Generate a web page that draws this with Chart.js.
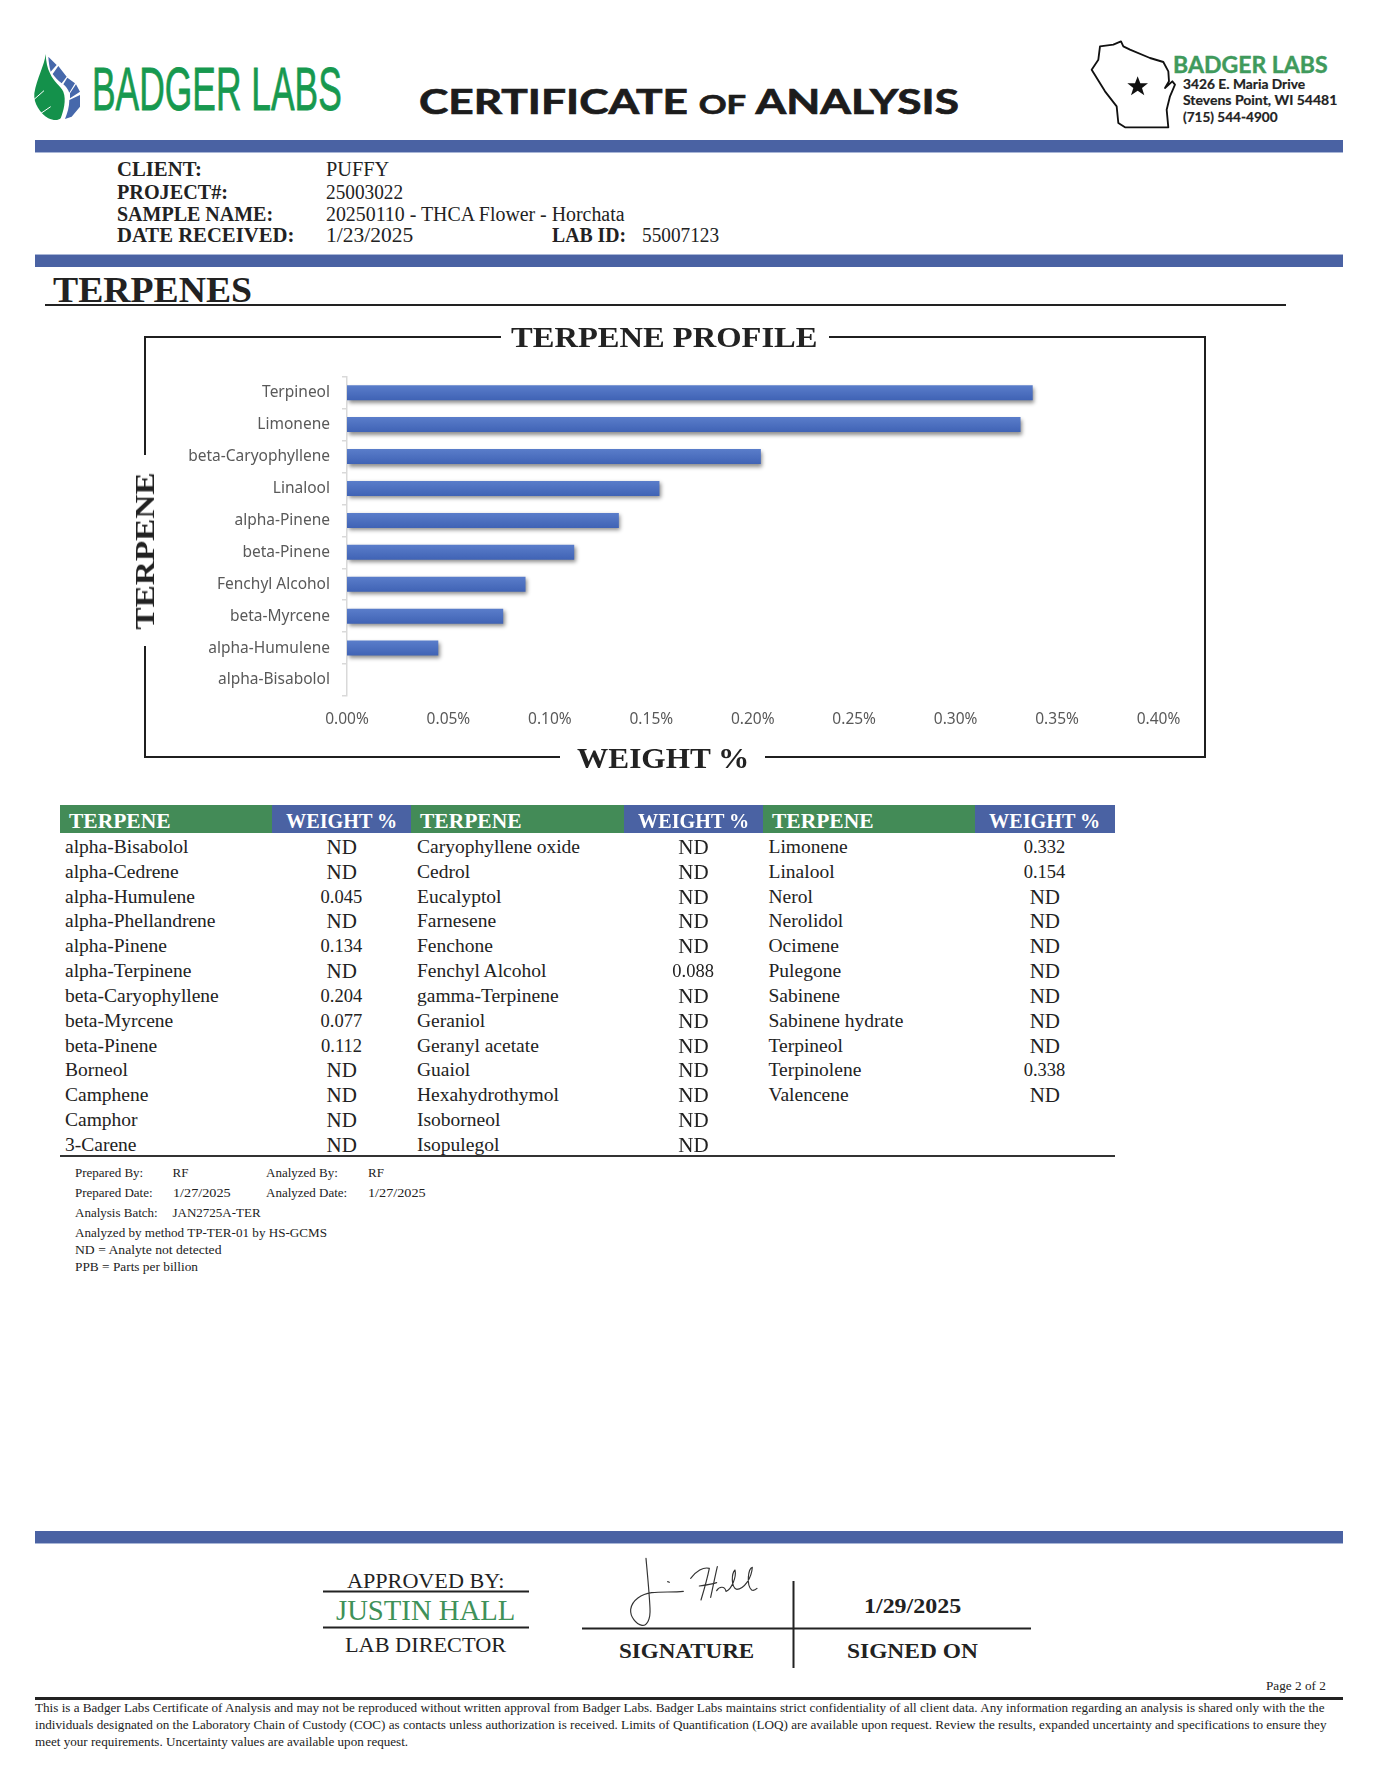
<!DOCTYPE html>
<html>
<head>
<meta charset="utf-8">
<title>Certificate of Analysis</title>
<script src="https://cdn.jsdelivr.net/npm/chart.js@4"></script>
<style>
  html, body { margin: 0; padding: 0; background: #fff; }
  #page { position: relative; width: 1376px; height: 1786px; overflow: hidden; color: #222; font-family: "Liberation Serif", serif; }
  #shapes { position: absolute; left: 0; top: 0; }
  #barChart { position: absolute; left: 150px; top: 345px; }
  .t { position: absolute; white-space: nowrap; transform-origin: 0 50%; }
  .band { position: absolute; left: 35px; width: 1308px; height: 12px; background: #4a62a3; }
  .cell { position: absolute; top: 805px; height: 28px; }
  .small { font-size: 0.78em; }
</style>
</head>
<body>
<div id="page">
  <div class="band" style="top:140px;border-bottom:1px solid #a9b6d6"></div>
  <div class="band" style="top:254px;border-top:1px solid #a9b6d6"></div>
  <div class="band" style="top:1531px;border-bottom:1px solid #a9b6d6"></div>

  <div class="cell" style="left:60px;width:212px;background:#438b57"></div>
  <div class="cell" style="left:272px;width:139px;background:#4a62a3"></div>
  <div class="cell" style="left:411px;width:213px;background:#438b57"></div>
  <div class="cell" style="left:624px;width:139px;background:#4a62a3"></div>
  <div class="cell" style="left:763px;width:212px;background:#438b57"></div>
  <div class="cell" style="left:975px;width:140px;background:#4a62a3"></div>

  <svg id="shapes" width="1376" height="1786" xmlns="http://www.w3.org/2000/svg">
    <!-- leaf logo -->
    <g transform="translate(30 50) scale(0.3333)">
      <path d="M47 12 C44 45 20 85 13 130 C10 160 30 190 55 205 C70 212 85 212 92 205 C100 185 110 150 100 125 C92 108 70 95 60 70 C52 55 48 35 47 12 Z" fill="#14914b"/>
      <path d="M8 152 L42 122 M30 192 L62 170" stroke="#fff" stroke-width="3" fill="none"/>
      <path d="M55 20 L80 45 L62 65 C58 50 56 35 55 20 Z M85 48 L110 80 L95 100 C85 92 75 82 68 72 Z M112 83 L135 100 L118 128 C114 118 108 110 100 103 Z M138 103 L150 125 L120 145 C120 140 120 135 120 130 Z M150 135 L150 170 L125 200 L105 207 C112 190 118 170 118 150 Z" fill="#4668ab"/>
    </g>

    <!-- wisconsin outline -->
    <g transform="translate(1085 38) scale(0.3333)" fill="none" stroke="#111" stroke-width="5.5" stroke-linejoin="round">
      <path d="M45 25 L85 20 L108 10 L115 25 L135 35 L195 60 L235 72 L250 100 L252 130 L240 150 L262 130 L270 140 L255 175 L245 215 L250 268 L120 268 L100 255 L95 205 L60 160 L20 95 L40 65 Z"/>
      <polygon points="158,115 166,136 189,136 171,150 178,172 158,158 138,172 145,150 127,136 150,136" fill="#111" stroke="none"/>
    </g>

    <!-- section rule and chart frame -->
    <rect x="45" y="304" width="1241" height="2" fill="#222"/>
    <g stroke="#1f1f1f" stroke-width="2" fill="none">
      <path d="M501 337 H145 V455"/>
      <path d="M145 646 V757 H560"/>
      <path d="M765 757 H1205 V337 H829"/>
    </g>

    <rect x="60" y="1155" width="1055" height="2" fill="#333"/>

    <!-- sign off lines -->
    <g fill="#222">
      <rect x="323" y="1590.5" width="206" height="2"/>
      <rect x="323" y="1626.5" width="206" height="2"/>
      <rect x="582" y="1627.5" width="449" height="2"/>
      <rect x="792.5" y="1581" width="2" height="87"/>
      <rect x="35" y="1697" width="1308" height="3"/>
    </g>

    <!-- signature -->
    <g transform="translate(620 1550) scale(0.3333)" fill="none" stroke="#333" stroke-width="3.5" stroke-linecap="round" stroke-linejoin="round">
      <path d="M78 25 C82 70 88 130 90 175 C92 210 80 228 66 226 C48 222 30 200 32 178 C36 150 65 132 95 128 C125 124 160 128 190 124"/>
      <path d="M143 95 L148 97"/>
      <path d="M212 85 C228 64 250 50 268 55 C262 85 252 120 243 150"/>
      <path d="M238 108 C255 106 272 104 290 98"/>
      <path d="M292 50 C285 80 278 115 272 142"/>
      <path d="M290 122 C298 108 315 108 318 124 C335 118 350 80 345 60 C335 70 332 110 350 118 C372 118 395 85 397 52 C385 55 378 105 395 120 C400 122 406 120 411 115"/>
    </g>
  </svg>

  <canvas id="barChart" width="1050" height="400"></canvas>
</div>

<script>
// chart values
const chartTerpenes = ['Terpineol', 'Limonene', 'beta-Caryophyllene', 'Linalool', 'alpha-Pinene', 'beta-Pinene', 'Fenchyl Alcohol', 'beta-Myrcene', 'alpha-Humulene', 'alpha-Bisabolol'];
const chartWeights = [0.338, 0.332, 0.204, 0.154, 0.134, 0.112, 0.088, 0.077, 0.045, 0];
const weightTicks = ['0.00%', '0.05%', '0.10%', '0.15%', '0.20%', '0.25%', '0.30%', '0.35%', '0.40%'];

// results table
const namesA = ['alpha-Bisabolol', 'alpha-Cedrene', 'alpha-Humulene', 'alpha-Phellandrene', 'alpha-Pinene', 'alpha-Terpinene', 'beta-Caryophyllene', 'beta-Myrcene', 'beta-Pinene', 'Borneol', 'Camphene', 'Camphor', '3-Carene'];
const valuesA = ['ND', 'ND', '0.045', 'ND', '0.134', 'ND', '0.204', '0.077', '0.112', 'ND', 'ND', 'ND', 'ND'];
const namesB = ['Caryophyllene oxide', 'Cedrol', 'Eucalyptol', 'Farnesene', 'Fenchone', 'Fenchyl Alcohol', 'gamma-Terpinene', 'Geraniol', 'Geranyl acetate', 'Guaiol', 'Hexahydrothymol', 'Isoborneol', 'Isopulegol'];
const valuesB = ['ND', 'ND', 'ND', 'ND', 'ND', '0.088', 'ND', 'ND', 'ND', 'ND', 'ND', 'ND', 'ND'];
const namesC = ['Limonene', 'Linalool', 'Nerol', 'Nerolidol', 'Ocimene', 'Pulegone', 'Sabinene', 'Sabinene hydrate', 'Terpineol', 'Terpinolene', 'Valencene'];
const valuesC = ['0.332', '0.154', 'ND', 'ND', 'ND', 'ND', 'ND', 'ND', 'ND', '0.338', 'ND'];
const rowCenters = [847, 872, 897, 921, 946, 971, 996, 1021, 1046, 1070, 1095, 1120, 1145];

const page = document.getElementById('page');

// puts one line of text, cy is the vertical middle, w squeezes it to a measured width
function put(text, x, cy, size, opts = {}) {
  const el = document.createElement('div');
  el.className = 't';
  el.innerHTML = text;
  el.style.fontSize = size + 'px';
  el.style.top = cy + 'px';
  if (opts.bold) el.style.fontWeight = 'bold';
  if (opts.font) el.style.fontFamily = opts.font;
  if (opts.color) el.style.color = opts.color;
  if (opts.stroke) el.style.webkitTextStroke = opts.stroke + 'px currentColor';
  page.appendChild(el);
  const natural = el.offsetWidth;
  const k = opts.w ? opts.w / natural : 1;
  const drawn = natural * k;
  el.style.left = (opts.center ? x - drawn / 2 : x) + 'px';
  el.style.transform = `translateY(-50%) scaleX(${k})`;
  return el;
}

// header
put('BADGER LABS', 91.5, 87.5, 62, { font: '"Liberation Sans Narrow", "Liberation Sans", sans-serif', color: '#17994f', w: 250, stroke: 0.8 });
put('CERTIFICATE <span class="small">OF</span> ANALYSIS', 419, 100, 34, { font: 'Lato, sans-serif', bold: true, w: 540, color: '#1c1c1c', stroke: 0.7 });
put('BADGER LABS', 1173, 64, 22, { font: 'Lato, sans-serif', bold: true, color: '#3f9a5c', w: 155, stroke: 0.4 });
put('3426 E. Maria Drive', 1182.5, 84, 13, { font: 'Lato, sans-serif', bold: true, w: 122, stroke: 0.2 });
put('Stevens Point, WI 54481', 1182.5, 100, 13, { font: 'Lato, sans-serif', bold: true, w: 154, stroke: 0.2 });
put('(715) 544-4900', 1182.5, 117, 13, { font: 'Lato, sans-serif', bold: true, w: 95, stroke: 0.2 });

// sample info
put('CLIENT:', 117, 169, 20, { bold: true, w: 85 });
put('PROJECT#:', 117, 191.5, 20, { bold: true, w: 111 });
put('SAMPLE NAME:', 117, 214, 20, { bold: true, w: 156 });
put('DATE RECEIVED:', 117, 235, 20, { bold: true, w: 177 });
put('PUFFY', 326, 169, 20, { w: 63 });
put('25003022', 326, 191.5, 20, { w: 77 });
put('20250110 - THCA Flower - Horchata', 326, 214, 20, { w: 299 });
put('1/23/2025', 326, 235, 20, { w: 87 });
put('LAB ID:', 552, 235, 20, { bold: true, w: 74 });
put('55007123', 642, 235, 20, { w: 77 });

put('TERPENES', 53, 290, 36, { bold: true, w: 199 });
put('TERPENE PROFILE', 511, 337, 30, { bold: true, w: 307 });
put('WEIGHT %', 577, 758, 30, { bold: true, w: 172 });
const sideTitle = put('TERPENE', 0, 0, 28, { bold: true });
sideTitle.style.left = '145px';
sideTitle.style.top = '551px';
sideTitle.style.transformOrigin = '0 0';
sideTitle.style.transform = `rotate(-90deg) scaleX(${157 / sideTitle.offsetWidth}) translate(-50%, -50%)`;

// table
[68.5, 420, 772].forEach(x => {
  put('TERPENE', x, 821, 20, { bold: true, color: '#fff', w: 101 });
});
[341.5, 693.3, 1044.7].forEach(x => {
  put('WEIGHT %', x, 821, 20, { bold: true, color: '#fff', w: 111, center: true });
});
function fillColumn(names, values, nameX, valueX) {
  names.forEach((name, i) => {
    put(name, nameX, rowCenters[i], 19.5);
    put(values[i], valueX, rowCenters[i], values[i] === 'ND' ? 21 : 18.5, { center: true });
  });
}
fillColumn(namesA, valuesA, 65, 341.5);
fillColumn(namesB, valuesB, 417, 693.3);
fillColumn(namesC, valuesC, 768.5, 1044.7);

// notes under the table
put('Prepared By:', 75, 1173, 13);
put('RF', 172.5, 1173, 13);
put('Analyzed By:', 266, 1173, 13);
put('RF', 368, 1173, 13);
put('Prepared Date:', 75, 1193, 13);
put('1/27/2025', 172.5, 1193, 13, { w: 58 });
put('Analyzed Date:', 266, 1193, 13);
put('1/27/2025', 368, 1193, 13, { w: 58 });
put('Analysis Batch:', 75, 1213, 13);
put('JAN2725A-TER', 172.5, 1213, 13);
put('Analyzed by method TP-TER-01 by HS-GCMS', 75, 1233, 13, { w: 252 });
put('ND = Analyte not detected', 75, 1250, 13, { w: 146 });
put('PPB = Parts per billion', 75, 1267, 13, { w: 123 });

// sign off
put('APPROVED BY:', 347, 1581, 22, { w: 157 });
put('JUSTIN HALL', 336, 1610, 29, { color: '#3f9159', w: 179 });
put('LAB DIRECTOR', 345, 1645, 22, { w: 161 });
put('1/29/2025', 912, 1606, 21, { bold: true, center: true, w: 97 });
put('SIGNATURE', 619, 1650.5, 22, { bold: true, w: 135 });
put('SIGNED ON', 847, 1650.5, 22, { bold: true, w: 131 });

// legal text
put('Page 2 of 2', 1266, 1686, 13, { w: 60 });
put('This is a Badger Labs Certificate of Analysis and may not be reproduced without written approval from Badger Labs. Badger Labs maintains strict confidentiality of all client data. Any information regarding an analysis is shared only with the the', 35, 1708, 12.5, { w: 1289 });
put('individuals designated on the Laboratory Chain of Custody (COC) as contacts unless authorization is received. Limits of Quantification (LOQ) are available upon request. Review the results, expanded uncertainty and specifications to ensure they', 35, 1725, 12.5, { w: 1291 });
put('meet your requirements. Uncertainty values are available upon request.', 35, 1742, 12.5, { w: 373 });

// excel style drop shadow behind the bars
const barShadow = {
  id: 'barShadow',
  beforeDatasetDraw(chart) {
    const ctx = chart.ctx;
    ctx.save();
    ctx.shadowColor = 'rgba(0,0,0,0.45)';
    ctx.shadowBlur = 4;
    ctx.shadowOffsetX = 1.5;
    ctx.shadowOffsetY = 2.5;
  },
  afterDatasetDraw(chart) {
    chart.ctx.restore();
  }
};

function barFill(c) {
  const chart = c.chart;
  if (!chart.chartArea) return '#4a6cc0';
  const mid = chart.scales.y.getPixelForValue(c.dataIndex);
  const g = chart.ctx.createLinearGradient(0, mid - 8, 0, mid + 8);
  g.addColorStop(0, '#5b7ecb');
  g.addColorStop(1, '#3f62b4');
  return g;
}

const axisFont = { family: '"Noto Sans", "Open Sans", sans-serif', size: 15.5 };

new Chart(document.getElementById('barChart').getContext('2d'), {
  type: 'bar',
  data: {
    labels: chartTerpenes,
    datasets: [{
      data: chartWeights,
      backgroundColor: barFill,
      borderWidth: 0,
      barPercentage: 0.47,
      categoryPercentage: 1
    }]
  },
  options: {
    indexAxis: 'y',
    responsive: false,
    animation: false,
    layout: { padding: { top: 31.7, right: 41.5, left: 0, bottom: 0 } },
    plugins: { legend: { display: false }, tooltip: { enabled: false } },
    scales: {
      x: {
        min: 0,
        max: 0.4,
        grid: { display: false },
        border: { display: false },
        afterFit: scale => { scale.height = 49; },
        ticks: {
          stepSize: 0.05,
          padding: 6,
          color: '#595959',
          font: axisFont,
          maxRotation: 0,
          callback: (v, i) => weightTicks[i]
        }
      },
      y: {
        grid: { drawOnChartArea: false, color: '#d9d9d9', tickLength: 5, lineWidth: 1.5 },
        border: { color: '#d9d9d9', width: 1.5 },
        afterFit: scale => { scale.width = 197; },
        ticks: { padding: 12, color: '#595959', font: axisFont, autoSkip: false }
      }
    }
  },
  plugins: [barShadow]
});
</script>
</body>
</html>
